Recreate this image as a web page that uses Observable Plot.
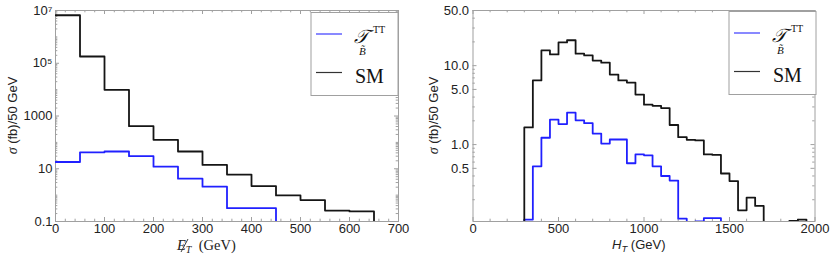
<!DOCTYPE html>
<html><head><meta charset="utf-8">
<script src="https://cdn.jsdelivr.net/npm/d3@7"></script>
<script src="https://cdn.jsdelivr.net/npm/@observablehq/plot@0.6"></script>
<style>
body{margin:0;background:#fff;}
#wrap{position:relative;width:831px;height:260px;overflow:hidden;background:#fff;}
#wrap svg{position:absolute;top:0;}
</style></head><body><div id="wrap"></div>
<script>
// ---------- data ----------
const binWidth = 50;
// Left panel: missing transverse energy
const metBinLow = [0,50,100,150,200,250,300,350,400,450,500,550,600];
const metSM  = [6.6e6,1.8e5,9800,410,125,45,14,6.0,2.2,0.97,0.65,0.26,0.24];
const metBSM = [18,42,45,30,12,4.2,2.1,0.32,0.32,0,0,0,0];
const metXTicks = [0,100,200,300,400,500,600,700];
const metYTicks = [0.1,10,1000,1e5,1e7];
const metYTickLabels = ["0.1","10","1000","10\u2075","10\u2077"];
// Right panel: H_T
const htBinLow = [0,50,100,150,200,250,300,350,400,450,500,550,600,650,700,750,800,850,900,950,
                  1000,1050,1100,1150,1200,1250,1300,1350,1400,1450,1500,1550,1600,1650,1700,1750,1800,1850,1900,1950];
const htSM  = [0,0,0,0,0,0,1.65,6.5,15.6,13.9,19.7,21,14.2,13.5,11.6,10.9,7.7,6.5,6.1,4.3,
               3.2,3.1,2.9,1.77,1.24,1.15,1.13,0.75,0.74,0.43,0.345,0.147,0.213,0.167,0,0,0,0.108,0.112,0];
const htBSM = [0,0,0,0,0,0,0.112,0.53,1.22,2.07,1.82,2.54,2.03,1.87,1.38,1.03,1.16,1.16,0.58,0.75,
               0.73,0.53,0.40,0.35,0.115,0,0.1065,0.117,0.117,0,0,0,0,0,0,0,0,0,0,0];
const htXTicks = [0,500,1000,1500,2000];
const htYTicks = [0.5,1,5,10,50];
const htYTickLabels = ["0.5","1.0","5.0","10.0","50.0"];

// ---------- helpers ----------
const FLOOR = 1e-4; // empty bins drawn below the frame (clipped)
function steps(lows, vals){
  const pts = lows.map((x,i)=>({x, y: vals[i] > 0 ? vals[i] : FLOOR}));
  pts.push({x: lows[lows.length-1] + binWidth, y: FLOOR});
  return pts;
}
function range(a,b,s){const r=[];for(let v=a;v<=b+1e-9;v+=s)r.push(+v.toFixed(6));return r;}
function logMinor(lo,hi,majors){
  const r=[];
  for(let k=-2;k<=8;k++)for(let m=1;m<=9;m++){
    const v=+(m*Math.pow(10,k)).toPrecision(6);
    if(v>=lo&&v<=hi&&!majors.includes(v))r.push(v);
  }
  return r;
}
const GRAY="#a0a0a0";
const SANS="Liberation Sans, Arial, Helvetica, sans-serif";
const SERIF="Liberation Serif, Times New Roman, serif";

function panel(o){
  const H=260, mt=10, mb=39;
  const pw=o.width-o.ml-o.mr, ph=H-mt-mb;
  const maj=4, mnr=2.3;
  const yt=o.yTicks.map((v,i)=>({v,l:o.yLabels[i]}));
  const marks=[
    Plot.frame({stroke:GRAY,strokeWidth:1}),
    Plot.tickX(o.xTicks,{x:d=>d,insetTop:ph-maj,stroke:GRAY}),
    Plot.tickX(o.xMinor,{x:d=>d,insetTop:ph-mnr,stroke:GRAY}),
    Plot.tickX(o.xTicks,{x:d=>d,insetBottom:ph-maj,stroke:GRAY}),
    Plot.tickX(o.xMinor,{x:d=>d,insetBottom:ph-mnr,stroke:GRAY}),
    Plot.tickY(o.yTicks,{y:d=>d,insetRight:pw-maj,stroke:GRAY}),
    Plot.tickY(o.yMinor,{y:d=>d,insetRight:pw-mnr,stroke:GRAY}),
    Plot.tickY(o.yTicks,{y:d=>d,insetLeft:pw-maj,stroke:GRAY}),
    Plot.tickY(o.yMinor,{y:d=>d,insetLeft:pw-mnr,stroke:GRAY}),
    Plot.line(steps(o.lows,o.bsm),{x:"x",y:"y",curve:"step-after",stroke:"#2020ff",strokeWidth:1.8,clip:true}),
    Plot.line(steps(o.lows,o.sm),{x:"x",y:"y",curve:"step-after",stroke:"#151515",strokeWidth:1.8,clip:true}),
    Plot.text(o.xTicks,{x:d=>d,text:d=>String(d),frameAnchor:"bottom",lineAnchor:"top",dy:2.5,fontSize:13,fill:"#222"}),
    Plot.text(yt,{y:"v",text:"l",frameAnchor:"left",textAnchor:"end",dx:-o.yPad,fontSize:13,fill:"#222"})
  ];
  const svg=Plot.plot({
    width:o.width,height:H,marginTop:mt,marginBottom:mb,marginLeft:o.ml,marginRight:o.mr,
    x:{domain:o.xDomain,axis:null},
    y:{type:"log",domain:o.yDomain,axis:null},
    style:{fontFamily:SANS,fontSize:"13px",color:"#222",background:"white",overflow:"visible"},
    marks
  });
  svg.style.left=o.left+"px";
  const s=d3.select(svg);
  // y label
  const yl=s.append("text").attr("transform",`translate(${o.yLabX},${mt+ph/2}) rotate(-90)`)
    .attr("text-anchor","middle").attr("dy","0.35em").attr("fill","#222").attr("font-size",13).attr("font-family",SANS);
  yl.append("tspan").attr("font-family",SERIF).attr("font-style","italic").attr("font-size",14).text("σ");
  yl.append("tspan").text(" (fb)/50 GeV");
  o.xLabel(s);
  legend(s,o.legX,o.legY);
  return svg;
}
function legend(s,bx,by){
  const g=s.append("g").attr("text-anchor","start");
  g.append("rect").attr("x",bx).attr("y",by).attr("width",87).attr("height",83)
    .attr("fill","white").attr("stroke",GRAY).attr("stroke-width",1);
  g.append("line").attr("x1",bx+5).attr("x2",bx+31).attr("y1",by+21.5).attr("y2",by+21.5).attr("stroke","#3a3aff").attr("stroke-width",1.2);
  g.append("line").attr("x1",bx+5).attr("x2",bx+31).attr("y1",by+60).attr("y2",by+60).attr("stroke","#333").attr("stroke-width",1.2);
  const t=g.append("text").attr("font-family",SERIF).attr("fill","#111").attr("text-anchor","start");
  t.append("tspan").attr("x",bx+43).attr("y",by+30).attr("font-style","italic").attr("font-size",19).text("\u{1D4AF}");
  t.append("tspan").attr("x",bx+48).attr("y",by+42.5).attr("font-style","italic").attr("font-size",11).text("B\u0303");
  t.append("tspan").attr("x",bx+62).attr("y",by+20).attr("font-size",10).text("TT");
  g.append("text").attr("x",bx+44).attr("y",by+70).attr("font-family",SERIF).attr("text-anchor","start")
    .attr("font-size",20).attr("fill","#111").text("SM");
}

const wrap=document.getElementById("wrap");
wrap.appendChild(panel({
  left:0,width:415,ml:55,mr:17,
  xDomain:[0,700],yDomain:[0.1,1e7],
  xTicks:metXTicks,xMinor:range(0,700,20).filter(v=>v%100!==0),
  yTicks:metYTicks,yLabels:metYTickLabels,yMinor:logMinor(0.1,1e7,metYTicks),yPad:3,
  lows:metBinLow,sm:metSM,bsm:metBSM,
  yLabX:12.5,legX:311,legY:12.5,
  xLabel:(s)=>{
    const t=s.append("text").attr("x",177).attr("y",250).attr("font-family",SERIF).attr("font-size",14.5)
      .attr("fill","#222").attr("text-anchor","start");
    t.append("tspan").attr("font-style","italic").text("E");
    t.append("tspan").attr("font-style","italic").attr("font-size",10).attr("dy",3).text("T");
    t.append("tspan").attr("dy",-3).text("  (GeV)");
    s.append("line").attr("x1",181).attr("y1",252).attr("x2",188).attr("y2",239).attr("stroke","#222").attr("stroke-width",0.9);
  }
}));
wrap.appendChild(panel({
  left:415,width:416,ml:57.5,mr:16.5,
  xDomain:[0,2000],yDomain:[0.106,50],
  xTicks:htXTicks,xMinor:range(0,2000,100).filter(v=>v%500!==0),
  yTicks:htYTicks,yLabels:htYTickLabels,yMinor:logMinor(0.106,50,htYTicks),yPad:4,
  lows:htBinLow,sm:htSM,bsm:htBSM,
  yLabX:18,legX:314,legY:11.5,
  xLabel:(s)=>{
    const t=s.append("text").attr("x",197).attr("y",248.5).attr("font-family",SANS).attr("font-size",13)
      .attr("fill","#222").attr("text-anchor","start");
    t.append("tspan").attr("font-style","italic").text("H");
    t.append("tspan").attr("font-style","italic").attr("font-size",9.5).attr("dy",3).text("T");
    t.append("tspan").attr("dy",-3).text(" (GeV)");
  }
}));
</script></body></html>
